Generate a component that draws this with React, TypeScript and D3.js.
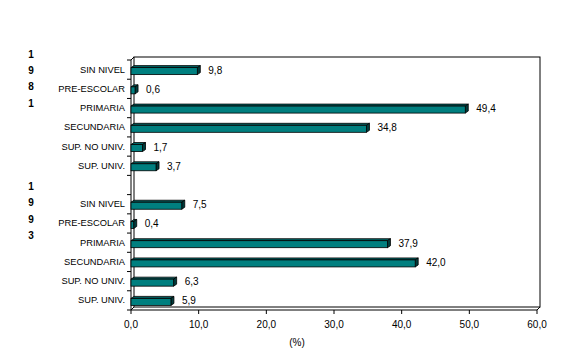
import React from "react";
import * as d3 from "d3";

const categories = ["SIN NIVEL", "PRE-ESCOLAR", "PRIMARIA", "SECUNDARIA", "SUP. NO UNIV.", "SUP. UNIV."];
const years = ["1981", "1993"];
const values1981 = [9.8, 0.6, 49.4, 34.8, 1.7, 3.7];
const values1993 = [7.5, 0.4, 37.9, 42.0, 6.3, 5.9];
const xTicks = [0, 10, 20, 30, 40, 50, 60];

const W = 573;
const H = 353;
const FRONT = "#007f7f";
const TOP = "#006262";
const END = "#003c3c";

export default function App() {
  const left = 131, right = 537, top = 60, bottom = 310;
  const dx = 3, dy = 3; // profundidad 3D

  // filas: 1981 (6), hueco, 1993 (6)
  const rows: { key: string; label: string; value: number | null }[] = [];
  categories.forEach((c, i) => rows.push({ key: "a" + i, label: c, value: values1981[i] }));
  rows.push({ key: "gap", label: "", value: null });
  categories.forEach((c, i) => rows.push({ key: "b" + i, label: c, value: values1993[i] }));

  const x = d3.scaleLinear().domain([0, 60]).range([left, right]);
  const y = d3.scaleBand<string>().domain(rows.map(r => r.key)).range([top, bottom]).padding(0);
  const bw = y.bandwidth();
  const fmt = (v: number) => d3.format(".1f")(v).replace(".", ",");

  const font = "'Liberation Sans', Arial, sans-serif";
  const barH = 7;

  const groupStarts = ["a0", "b0"];
  const yearOffset = [-6, -8.5];

  return (
    <svg width={W} height={H} style={{ position: "absolute", left: 0, top: 0, background: "#fff" }}
      fontFamily={font}>
      {/* pared del fondo */}
      <rect x={left + dx} y={top - dy} width={right - left} height={bottom - top} fill="none" stroke="#000" strokeWidth={1} />
      <line x1={left} y1={top} x2={left + dx} y2={top - dy} stroke="#000" />
      <line x1={right} y1={bottom} x2={right + dx} y2={bottom - dy} stroke="#000" />
      <line x1={left} y1={bottom} x2={left + dx} y2={bottom - dy} stroke="#000" />
      {/* ejes frontales */}
      <line x1={left} y1={top} x2={left} y2={bottom} stroke="#000" />
      <line x1={left} y1={bottom} x2={right} y2={bottom} stroke="#000" />

      {/* marcas eje Y */}
      {rows.map((r, i) => (
        <line key={"yt" + i} x1={left - 4} x2={left} y1={y(r.key)!} y2={y(r.key)!} stroke="#000" />
      ))}
      <line x1={left - 4} x2={left} y1={bottom} y2={bottom} stroke="#000" />

      {/* marcas y etiquetas eje X */}
      {xTicks.map(t => (
        <g key={"xt" + t}>
          <line x1={x(t)} x2={x(t)} y1={bottom} y2={bottom + 4} stroke="#000" />
          <text x={x(t)} y={328} fontSize={10} textAnchor="middle" fill="#000">{fmt(t)}</text>
        </g>
      ))}
      <text x={297} y={345.5} fontSize={10} textAnchor="middle" fill="#000">(%)</text>

      {/* barras */}
      {rows.filter(r => r.value !== null).map(r => {
        const v = r.value as number;
        const y0 = y(r.key)! + bw / 2 - barH / 2 + 1.5;
        const x0 = x(0);
        const x1 = x(v);
        return (
          <g key={"bar" + r.key}>
            <polygon
              points={`${x0},${y0} ${x0 + dx},${y0 - dy + 1} ${x1 + dx},${y0 - dy + 1} ${x1},${y0}`}
              fill={TOP} stroke="#000" strokeWidth={0.8} strokeLinejoin="round" />
            <polygon
              points={`${x1},${y0} ${x1 + dx},${y0 - dy + 1} ${x1 + dx},${y0 + barH - dy + 1} ${x1},${y0 + barH}`}
              fill={END} stroke="#000" strokeWidth={0.8} strokeLinejoin="round" />
            <rect x={x0} y={y0} width={x1 - x0} height={barH} fill={FRONT} stroke="#000" strokeWidth={0.8} />
            <text x={x1 + dx + 8} y={y(r.key)! + bw / 2 + 4} fontSize={10} fill="#000">{fmt(v)}</text>
          </g>
        );
      })}

      {/* etiquetas de categoria */}
      {rows.filter(r => r.label).map(r => (
        <text key={"lab" + r.key} x={125} y={y(r.key)! + bw / 2 + 3} fontSize={9.3} textAnchor="end" fill="#000">
          {r.label}
        </text>
      ))}

      {/* años en vertical */}
      {years.map((yr, gi) => {
        const start = y(groupStarts[gi])!;
        return yr.split("").map((ch, ci) => (
          <text key={"yr" + gi + ci} x={31} y={start + yearOffset[gi] + ci * 16.2 + 4} fontSize={10} fontWeight="bold"
            textAnchor="middle" fill="#000">{ch}</text>
        ));
      })}
    </svg>
  );
}
